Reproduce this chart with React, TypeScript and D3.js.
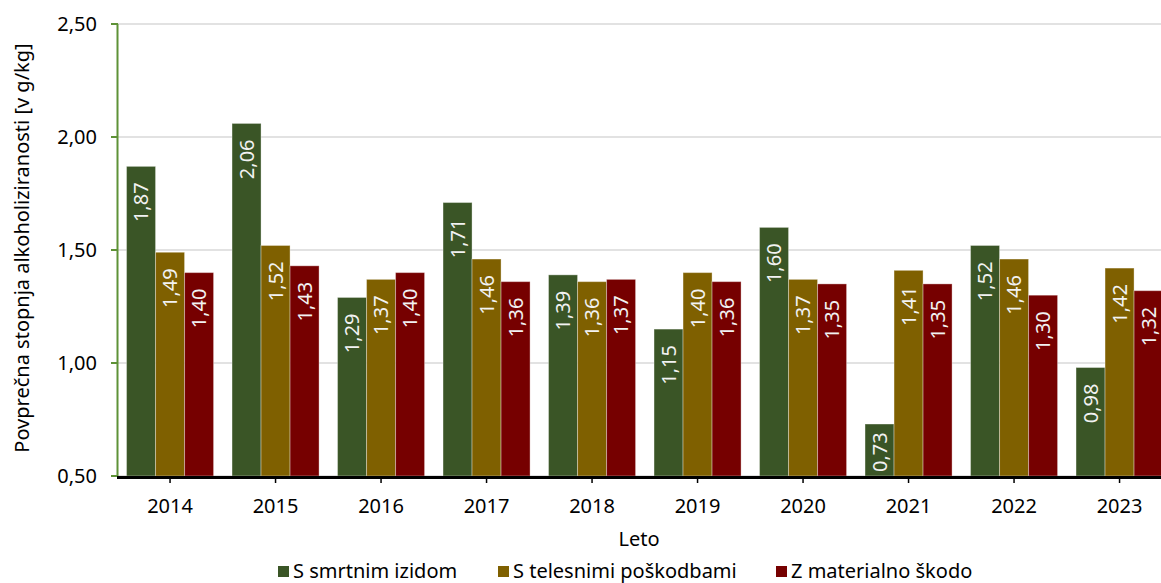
import React from "react";
import * as d3 from "d3";

const years = ["2014", "2015", "2016", "2017", "2018", "2019", "2020", "2021", "2022", "2023"];
const seriesNames = ["S smrtnim izidom", "S telesnimi poškodbami", "Z materialno škodo"];
const smrtnim = [1.87, 2.06, 1.29, 1.71, 1.39, 1.15, 1.6, 0.73, 1.52, 0.98];
const telesnimi = [1.49, 1.52, 1.37, 1.46, 1.36, 1.4, 1.37, 1.41, 1.46, 1.42];
const materialno = [1.4, 1.43, 1.4, 1.36, 1.37, 1.36, 1.35, 1.35, 1.3, 1.32];
const yTicks = [0.5, 1.0, 1.5, 2.0, 2.5];
const colors = ["#3a5526", "#7f6000", "#760000"];

const W = 1161;
const H = 583;
const FONT = "'Noto Sans', 'DejaVu Sans', sans-serif";
const FS = 20;

export default function App() {
  const series = [smrtnim, telesnimi, materialno];
  const x = d3.scaleBand<string>().domain(years).range([117.3, 1172.3]).paddingInner(0.175).paddingOuter(0.0875);
  const xs = d3.scaleBand<number>().domain([0, 1, 2]).range([0, x.bandwidth()]);
  const y = d3.scaleLinear().domain([0.5, 2.5]).range([476, 24]);
  const fmt = (v: number) => d3.format(".2f")(v).replace(".", ",");
  const labelFont = 20;
  const labelLen = 1.986 * labelFont;

  const legendX = [278, 498, 776];

  return (
    <svg width={W} height={H} style={{ position: "absolute", left: 0, top: 0, background: "#fff" }} fontFamily={FONT}>
      {/* gridlines */}
      {yTicks.map((t) => (
        <line key={"g" + t} x1={118} x2={W} y1={y(t)} y2={y(t)} stroke="#d9d9d9" strokeWidth={1.5} />
      ))}
      {/* bars */}
      {years.map((yr, i) => (
        <g key={yr} transform={`translate(${x(yr)},0)`}>
          {series.map((s, k) => {
            const v = s[i];
            const top = y(v);
            const bottom = y(0.5);
            const bx = xs(k)!;
            const bw = xs.bandwidth();
            let anchorY = top + 16;
            let anchor = "end";
            if (top + 16 + labelLen > bottom - 4) {
              anchorY = bottom - 4;
              anchor = "start";
            }
            const cx = bx + bw / 2;
            return (
              <g key={k}>
                <rect x={bx} y={top} width={bw} height={bottom - top} fill={colors[k]} stroke="rgba(255,255,255,0.35)" strokeWidth={1} />
                <text
                  transform={`translate(${cx + labelFont * 0.36},${anchorY}) rotate(-90)`}
                  textAnchor={anchor}
                  fontSize={labelFont}
                  fill="#f2f2f2"
                >
                  {fmt(v)}
                </text>
              </g>
            );
          })}
        </g>
      ))}
      {/* y axis */}
      <line x1={117.5} x2={117.5} y1={y(2.5)} y2={y(0.5)} stroke="#5e9237" strokeWidth={2} />
      {yTicks.map((t) => (
        <g key={"t" + t}>
          <line x1={111} x2={118} y1={y(t)} y2={y(t)} stroke="#5e9237" strokeWidth={2} />
          <text x={97} y={y(t)} dy="0.36em" textAnchor="end" fontSize={FS} fill="#000">
            {fmt(t)}
          </text>
        </g>
      ))}
      {/* x axis */}
      <line x1={117} x2={W} y1={477.5} y2={477.5} stroke="#000" strokeWidth={3} />
      {years.map((yr) => {
        const cx = x(yr)! + x.bandwidth() / 2;
        return (
          <g key={"x" + yr}>
            <line x1={cx} x2={cx} y1={479} y2={483} stroke="#000" strokeWidth={1.5} />
            <text x={cx} y={513} textAnchor="middle" fontSize={FS} fill="#000">
              {yr}
            </text>
          </g>
        );
      })}
      {/* axis titles */}
      <text x={639} y={546} textAnchor="middle" fontSize={FS} fill="#000">
        Leto
      </text>
      <text transform={`translate(29,248) rotate(-90)`} textAnchor="middle" fontSize={FS} fill="#000">
        Povprečna stopnja alkoholiziranosti [v g/kg]
      </text>
      {/* legend */}
      {seriesNames.map((n, k) => (
        <g key={n}>
          <rect x={legendX[k]} y={566} width={11} height={11} fill={colors[k]} />
          <text x={legendX[k] + 15} y={577.5} fontSize={FS} fill="#000">
            {n}
          </text>
        </g>
      ))}
    </svg>
  );
}
